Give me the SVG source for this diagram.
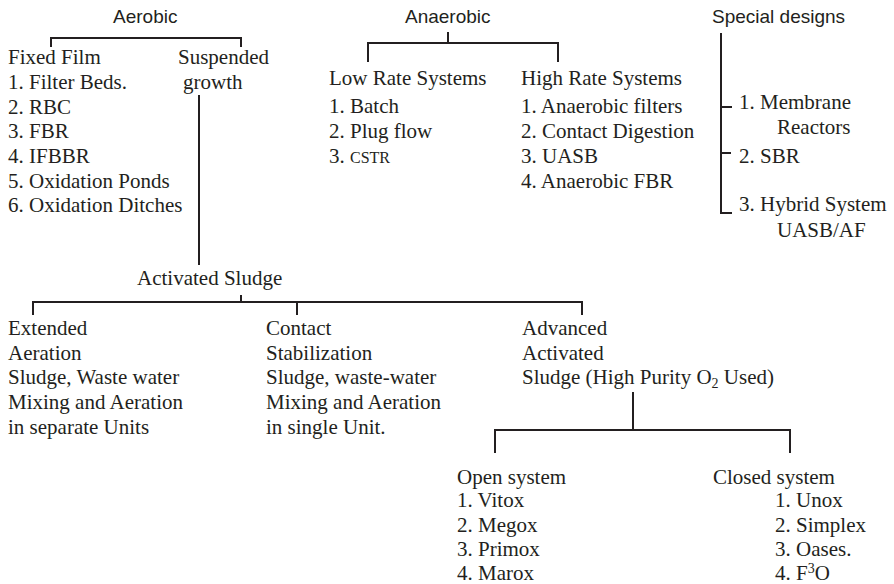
<svg xmlns="http://www.w3.org/2000/svg" width="894" height="584" viewBox="0 0 894 584">
<style>
.s{font-family:"Liberation Sans",Arial,sans-serif;font-size:19px;fill:#231f20}
.t{font-family:"Liberation Serif","Times New Roman",serif;font-size:21px;fill:#231f20}
.sc{font-size:16px}
.sub{font-size:14px}
#connectors path{fill:none;stroke:#231f20;stroke-width:2}
</style>
<rect width="894" height="584" fill="#fff"/>
<g id="connectors">
<path d="M51,47 V38 H241 V47"/>
<path d="M448,32 V43"/>
<path d="M368,62 V43 H558 V62"/>
<path d="M721,33 V213 H732"/>
<path d="M721,107 H732"/>
<path d="M721,153 H731"/>
<path d="M199,95 V265"/>
<path d="M241,295 V302"/>
<path d="M33,315 V302 H582 V315"/>
<path d="M297,302 V315"/>
<path d="M633,392 V430"/>
<path d="M495,453 V430 H790 V453"/>
</g>
<g id="aerobic"><text class="s" x="113" y="22.5">Aerobic</text></g>
<g id="anaerobic"><text class="s" x="405" y="22.5">Anaerobic</text></g>
<g id="special"><text class="s" x="712" y="22.5">Special designs</text></g>
<g id="fixed-film">
<text class="t" x="8" y="64">Fixed Film</text>
<text class="t" x="8" y="89">1. Filter Beds.</text>
<text class="t" x="8" y="113.5">2. RBC</text>
<text class="t" x="8" y="138">3. FBR</text>
<text class="t" x="8" y="163">4. IFBBR</text>
<text class="t" x="8" y="187.5">5. Oxidation Ponds</text>
<text class="t" x="8" y="212">6. Oxidation Ditches</text>
</g>
<g id="suspended">
<text class="t" x="178" y="64">Suspended</text>
<text class="t" x="183" y="89">growth</text>
</g>
<g id="low-rate">
<text class="t" x="329" y="85">Low Rate Systems</text>
<text class="t" x="329" y="113">1. Batch</text>
<text class="t" x="329" y="138">2. Plug flow</text>
<text class="t" x="329" y="162.5">3. <tspan class="sc">CSTR</tspan></text>
</g>
<g id="high-rate">
<text class="t" x="521" y="85">High Rate Systems</text>
<text class="t" x="521" y="113">1. Anaerobic filters</text>
<text class="t" x="521" y="138">2. Contact Digestion</text>
<text class="t" x="521" y="162.5">3. UASB</text>
<text class="t" x="521" y="187.5">4. Anaerobic FBR</text>
</g>
<g id="special-items">
<text class="t" x="739" y="108.5">1. Membrane</text>
<text class="t" x="777" y="133.5">Reactors</text>
<text class="t" x="739" y="162.5">2. SBR</text>
<text class="t" x="739" y="210.5">3. Hybrid System</text>
<text class="t" x="777" y="236.5">UASB/AF</text>
</g>
<g id="activated-sludge"><text class="t" x="137" y="285">Activated Sludge</text></g>
<g id="extended">
<text class="t" x="8" y="335">Extended</text>
<text class="t" x="8" y="360">Aeration</text>
<text class="t" x="8" y="384">Sludge, Waste water</text>
<text class="t" x="8" y="408.5">Mixing and Aeration</text>
<text class="t" x="8" y="433.5">in separate Units</text>
</g>
<g id="contact">
<text class="t" x="266" y="335">Contact</text>
<text class="t" x="266" y="360">Stabilization</text>
<text class="t" x="266" y="384">Sludge, waste-water</text>
<text class="t" x="266" y="408.5">Mixing and Aeration</text>
<text class="t" x="266" y="433.5">in single Unit.</text>
</g>
<g id="advanced">
<text class="t" x="522" y="335">Advanced</text>
<text class="t" x="522" y="360">Activated</text>
<text class="t" x="522" y="384">Sludge (High Purity O<tspan class="sub" dy="4">2</tspan><tspan dy="-4"> Used)</tspan></text>
</g>
<g id="open">
<text class="t" x="457" y="483.5">Open system</text>
<text class="t" x="457" y="507">1. Vitox</text>
<text class="t" x="457" y="531.5">2. Megox</text>
<text class="t" x="457" y="555.5">3. Primox</text>
<text class="t" x="457" y="579.5">4. Marox</text>
</g>
<g id="closed">
<text class="t" x="713" y="483.5">Closed system</text>
<text class="t" x="775" y="507">1. Unox</text>
<text class="t" x="775" y="531.5">2. Simplex</text>
<text class="t" x="775" y="555.5">3. Oases.</text>
<text class="t" x="775" y="579.5">4. F<tspan class="sub" dy="-7">3</tspan><tspan dy="7">O</tspan></text>
</g>
</svg>
